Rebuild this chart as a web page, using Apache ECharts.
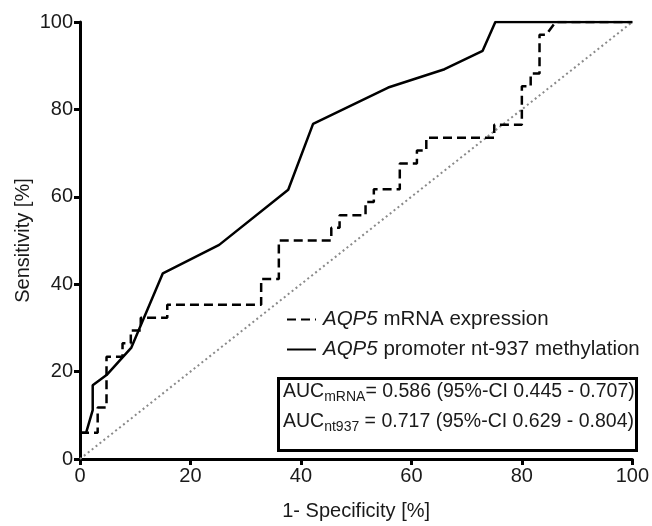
<!DOCTYPE html>
<html>
<head>
<meta charset="utf-8">
<script src="https://cdn.jsdelivr.net/npm/echarts@6/dist/echarts.min.js"></script>
<style>
  html, body { margin: 0; padding: 0; background: #fff; }
  #main { width: 652px; height: 526px; }
</style>
</head>
<body>
<div id="main"></div>
<script>
// ROC curve points: [1-specificity %, sensitivity %]
var mrnaCurve = [
  [0, 6], [3.2, 6], [3.2, 11.8], [4.8, 11.8], [4.8, 23.4], [7.7, 23.4],
  [7.7, 26.5], [9.2, 26.5], [9.2, 29.4], [11, 29.4], [11, 32.3], [15.8, 32.3],
  [15.8, 35.3], [32.8, 35.3], [32.8, 41.2], [36, 41.2], [36, 50], [45.5, 50],
  [45.5, 52.9], [47, 52.9], [47, 55.8], [51.7, 55.8], [51.7, 58.8], [53.2, 58.8],
  [53.2, 61.7], [57.9, 61.7], [57.9, 67.6], [61, 67.6], [61, 70.6], [62.7, 70.6],
  [62.7, 73.5], [75, 73.5], [75, 76.5], [80, 76.5], [80, 85.3], [81.6, 85.3],
  [81.6, 88.2], [83.2, 88.2], [83.2, 97.1], [84.4, 97.1], [86.1, 100], [100, 100]
];
var methCurve = [
  [0, 6], [1.1, 6], [2.3, 11.2], [2.3, 16.9], [4.8, 19.2], [9.3, 25.5],
  [15, 42.5], [25.2, 49], [37.7, 61.6], [42.2, 76.7], [55.8, 85], [66, 89.2],
  [72.9, 93.4], [75.2, 100], [100, 100]
];
var refLine = [[0, 0], [100, 100]];
var seriesNames = ['AQP5 mRNA expression', 'AQP5 promoter nt-937 methylation'];
var xTicks = [0, 20, 40, 60, 80, 100];
var yTicks = [0, 20, 40, 60, 80, 100];
var aucLines = [
  { sub: 'mRNA', text: '= 0.586 (95%-CI 0.445 - 0.707)' },
  { sub: 'nt937', text: ' = 0.717 (95%-CI 0.629 - 0.804)' }
];

var FONT = 'Arial, "Liberation Sans", sans-serif';
var chart = echarts.init(document.getElementById('main'));

var axisCommon = {
  type: 'value',
  min: 0,
  max: 100,
  interval: 20,
  nameLocation: 'middle',
  nameMoveOverlap: false,
  nameTextStyle: { fontFamily: FONT, fontSize: 20, color: '#1a1a1a' },
  axisLine: { show: true, onZero: false, lineStyle: { color: '#000', width: 3 } },
  axisTick: { show: true, length: 6, lineStyle: { color: '#000', width: 3 } },
  axisLabel: { fontFamily: FONT, fontSize: 20, color: '#1a1a1a', margin: 7 },
  splitLine: { show: false }
};

var option = {
  backgroundColor: '#fff',
  animation: false,
  grid: { left: 80, right: 19, top: 22, bottom: 67, containLabel: false },
  xAxis: Object.assign({}, axisCommon, {
    name: '1- Specificity [%]',
    nameGap: 42,
    axisLabel: Object.assign({}, axisCommon.axisLabel, {
      formatter: function (v) { return xTicks.indexOf(v) >= 0 ? String(v) : ''; }
    })
  }),
  yAxis: Object.assign({}, axisCommon, {
    name: 'Sensitivity [%]',
    nameGap: 47,
    axisLabel: Object.assign({}, axisCommon.axisLabel, {
      formatter: function (v) { return yTicks.indexOf(v) >= 0 ? String(v) : ''; }
    })
  }),
  legend: {
    orient: 'vertical',
    left: 281,
    top: 304,
    itemWidth: 29,
    itemHeight: 14,
    itemGap: 9,
    data: seriesNames,
    itemStyle: { color: 'rgba(0,0,0,0)', borderColor: 'rgba(0,0,0,0)', borderWidth: 0 },
    formatter: function (name) {
      return '{i|AQP5}' + name.replace('AQP5', '');
    },
    textStyle: {
      fontFamily: FONT,
      fontSize: 20.5,
      color: '#1a1a1a',
      padding: [0, 0, 0, 2],
      rich: {
        i: { fontFamily: FONT, fontSize: 20.5, fontStyle: 'italic', color: '#1a1a1a' }
      }
    }
  },
  series: [
    {
      name: 'reference',
      type: 'line',
      data: refLine,
      symbol: 'none',
      silent: true,
      lineStyle: { color: '#8a8a8a', width: 2, type: [2, 3] },
      z: 1
    },
    {
      name: seriesNames[0],
      type: 'line',
      data: mrnaCurve,
      symbol: 'none',
      lineStyle: { color: '#000', width: 2.5, type: [9, 5] },
      itemStyle: { color: '#000' },
      z: 3
    },
    {
      name: seriesNames[1],
      type: 'line',
      data: methCurve,
      symbol: 'none',
      lineStyle: { color: '#000', width: 2.5 },
      itemStyle: { color: '#000' },
      z: 4
    }
  ],
  graphic: [
    {
      type: 'rect',
      left: 277,
      top: 377,
      shape: { width: 358, height: 72 },
      style: { fill: '#fff', stroke: '#000', lineWidth: 3 },
      z: 10
    }
  ].concat(aucLines.map(function (l, i) {
    return {
      type: 'text',
      left: 283,
      top: 382 + i * 30,
      z: 11,
      style: {
        text: 'AUC{s|' + l.sub + '}' + l.text,
        fontFamily: FONT,
        fontSize: 19.5,
        fill: '#1a1a1a',
        rich: {
          s: { fontFamily: FONT, fontSize: 14, fill: '#1a1a1a', padding: [11, 0, 0, 0] }
        }
      }
    };
  }))
};

chart.setOption(option);
</script>
</body>
</html>
